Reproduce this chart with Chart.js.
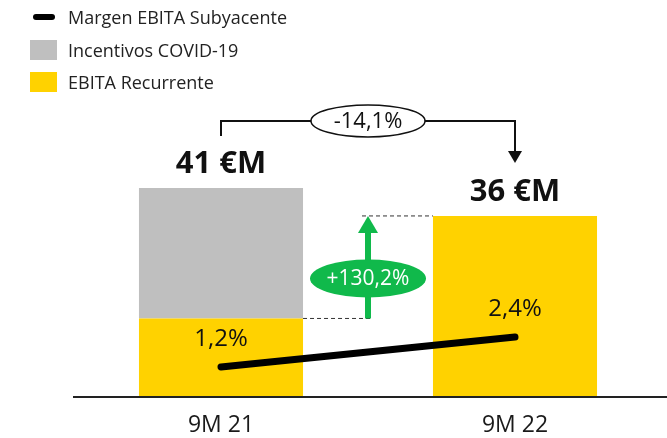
<!DOCTYPE html>
<html>
<head>
<meta charset="utf-8">
<script src="https://cdn.jsdelivr.net/npm/chart.js@4/dist/chart.umd.min.js"></script>
<style>
  html, body { margin: 0; padding: 0; background: #fff; }
  #wrap { position: relative; width: 667px; height: 438px; }
  #wrap canvas { position: absolute; left: 0; top: 0; }
  .legend { position: absolute; left: 30px; top: 1px; font-family: "Open Sans", sans-serif; font-size: 18px; color: #222; z-index: 2; }
  .legend .it { display: flex; align-items: center; height: 32.5px; }
  .legend .sw { width: 27px; height: 20px; margin-right: 11px; }
  .legend .ln { width: 22px; height: 6px; border-radius: 3px; background: #000; margin: 0 13px 0 3px; }
</style>
</head>
<body>
<div id="wrap">
  <div class="legend" id="legend"></div>
  <canvas id="c" width="667" height="438"></canvas>
</div>
<script>
const periods = ["9M 21", "9M 22"];
const recurrent = [15.4, 35.5];   // EBITA Recurrente (€M)
const covid = [25.6, 0];          // Incentivos COVID-19 (€M)
const margin = [1.2, 2.4];        // Margen EBITA Subyacente (%)
const changeLabels = ["-14,1%", "+130,2%"];

const YELLOW = "#FFD200";
const GRAY = "#BFBFBF";
const GREEN = "#10B94B";
const FONT = '"Open Sans", sans-serif';

document.getElementById("legend").innerHTML = `
  <div class="it"><span class="ln"></span>Margen EBITA Subyacente</div>
  <div class="it"><span class="sw" style="background:${GRAY}"></span>Incentivos COVID-19</div>
  <div class="it"><span class="sw" style="background:${YELLOW}"></span>EBITA Recurrente</div>`;

const fmt = (v) => v.toFixed(1).replace(".", ",");

const annot = {
  id: "annot",
  afterDatasetsDraw(chart) {
    const { ctx, chartArea, scales: { y } } = chart;
    const yel = chart.getDatasetMeta(0).data;
    const line = chart.getDatasetMeta(2).data;
    ctx.save();

    // base line
    ctx.strokeStyle = "#222";
    ctx.lineWidth = 2;
    ctx.beginPath();
    ctx.moveTo(73, chartArea.bottom);
    ctx.lineTo(667, chartArea.bottom);
    ctx.stroke();

    // totals
    ctx.fillStyle = "#111";
    ctx.textAlign = "center";
    ctx.textBaseline = "middle";
    ctx.font = `bold 31px ${FONT}`;
    const tops = periods.map((_, i) => y.getPixelForValue(recurrent[i] + covid[i]));
    periods.forEach((_, i) => {
      ctx.fillText(Math.round(recurrent[i] + covid[i]) + " €M", yel[i].x, tops[i] - 24);
    });

    // margin labels
    ctx.font = `24px ${FONT}`;
    line.forEach((p, i) => ctx.fillText(fmt(margin[i]) + "%", p.x, p.y - 28));

    // bracket -14,1%
    const x0 = yel[0].x, x1 = yel[1].x, mid = (x0 + x1) / 2;
    const by = tops[0] - 67;
    ctx.strokeStyle = "#111";
    ctx.lineWidth = 2;
    ctx.beginPath();
    ctx.moveTo(x0, tops[0] - 52);
    ctx.lineTo(x0, by);
    ctx.lineTo(x1, by);
    ctx.lineTo(x1, tops[1] - 64);
    ctx.stroke();
    ctx.fillStyle = "#111";
    ctx.beginPath();
    ctx.moveTo(x1 - 7, tops[1] - 65);
    ctx.lineTo(x1 + 7, tops[1] - 65);
    ctx.lineTo(x1, tops[1] - 53);
    ctx.closePath();
    ctx.fill();
    ctx.fillStyle = "#fff";
    ctx.lineWidth = 1.5;
    ctx.beginPath();
    ctx.ellipse(mid, by, 57, 16, 0, 0, Math.PI * 2);
    ctx.fill();
    ctx.stroke();
    ctx.fillStyle = "#111";
    ctx.font = `22px ${FONT}`;
    ctx.fillText(changeLabels[0], mid, by + 1);

    // dashed guides
    const y0 = y.getPixelForValue(recurrent[0]);
    const y1 = y.getPixelForValue(recurrent[1]);
    ctx.strokeStyle = "#333";
    ctx.lineWidth = 1;
    ctx.setLineDash([4, 3]);
    ctx.beginPath();
    ctx.moveTo(yel[0].x + yel[0].width / 2, y0);
    ctx.lineTo(mid + 5, y0);
    ctx.moveTo(mid - 6, y1);
    ctx.lineTo(yel[1].x - yel[1].width / 2, y1);
    ctx.stroke();
    ctx.setLineDash([]);

    // green arrow +130,2%
    ctx.fillStyle = GREEN;
    ctx.fillRect(mid - 3, y1 + 15, 6, y0 - y1 - 15);
    ctx.beginPath();
    ctx.moveTo(mid, y1);
    ctx.lineTo(mid + 10, y1 + 17);
    ctx.lineTo(mid - 10, y1 + 17);
    ctx.closePath();
    ctx.fill();
    ctx.beginPath();
    ctx.ellipse(mid, y0 - 40, 58, 19, 0, 0, Math.PI * 2);
    ctx.fill();
    ctx.fillStyle = "#fff";
    ctx.font = `21px ${FONT}`;
    ctx.fillText(changeLabels[1], mid, y0 - 39);

    ctx.restore();
  },
};

new Chart(document.getElementById("c"), {
  data: {
    labels: periods,
    datasets: [
      { type: "bar", label: "EBITA Recurrente", data: recurrent, backgroundColor: YELLOW, stack: "s", order: 1,
        categoryPercentage: 1, barPercentage: 0.558 },
      { type: "bar", label: "Incentivos COVID-19", data: covid, backgroundColor: GRAY, stack: "s", order: 1,
        categoryPercentage: 1, barPercentage: 0.558 },
      { type: "line", label: "Margen EBITA Subyacente", data: margin, yAxisID: "y2", order: 0,
        borderColor: "#000", borderWidth: 7, borderCapStyle: "round", pointRadius: 0, tension: 0 },
    ],
  },
  options: {
    responsive: false,
    animation: false,
    layout: { padding: { left: 74, right: 5, top: 91, bottom: 0 } },
    plugins: { legend: { display: false }, tooltip: { enabled: false } },
    scales: {
      x: {
        stacked: true,
        grid: { display: false, drawTicks: false },
        border: { display: false },
        ticks: { color: "#1a1a1a", padding: 15, font: { family: FONT, size: 23, weight: "400" } },
        afterFit: (s) => { s.height = 41; },
      },
      y: { stacked: true, display: false, min: 0, max: 60 },
      y2: { display: false, min: 0, max: 12.24 },
    },
  },
  plugins: [annot],
});
</script>
</body>
</html>
